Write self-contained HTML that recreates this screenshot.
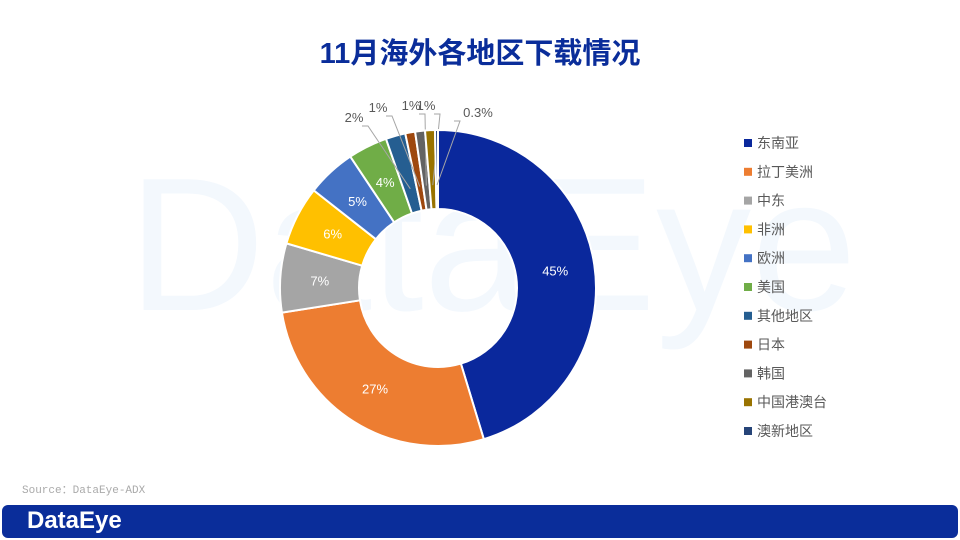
<!DOCTYPE html>
<html><head><meta charset="utf-8"><style>
body{margin:0;width:960px;height:540px;background:#fff;overflow:hidden;font-family:"Liberation Sans","Noto Sans CJK SC",sans-serif;position:relative}
</style></head><body>
<div style="position:absolute;left:128px;top:150px;font-size:190px;font-weight:normal;color:#f3f8fd;letter-spacing:0px;line-height:1">DataEye</div>
<div style="position:absolute;left:0;width:960px;top:30px;text-align:center;font-size:29px;font-weight:bold;color:#0a2d9a">11月海外各地区下载情况</div>
<svg id="chart" width="960" height="540" style="position:absolute;left:0;top:0"></svg>
<div style="position:absolute;left:22px;top:481px;font-size:11px;color:#aaa;font-family:'Liberation Mono','Noto Sans CJK SC',monospace">Source：DataEye-ADX</div>
<div style="position:absolute;left:2px;top:505px;width:956px;height:33px;background:#0a2d9a;border-radius:6px"></div>
<div style="position:absolute;left:27px;top:507px;font-size:24px;font-weight:bold;color:#fff">DataEye</div>
<script>
const categories=["东南亚","拉丁美洲","中东","非洲","欧洲","美国","其他地区","日本","韩国","中国港澳台","澳新地区"];
const values=[45,27,7,6,5,4,2,1,1,1,0.3];
const labels=["45%","27%","7%","6%","5%","4%","2%","1%","1%","1%","0.3%"];
const colors=["#0a289c","#ed7d31","#a5a5a5","#ffc000","#4472c4","#70ad47","#255e91","#9e480e","#636363","#997300","#264478"];
const NS="http://www.w3.org/2000/svg";
const svg=document.getElementById('chart');
const cx=438,cy=288,R=158,r=79;
const total=values.reduce((a,b)=>a+b,0);
function pt(a,rad){return [cx+rad*Math.sin(a),cy-rad*Math.cos(a)];}
let a0=0;
const outside=[[368,120],[392,110],[425,108],[440,108],[460,115]];
values.forEach((v,i)=>{
  const a1=a0+v/total*2*Math.PI;
  const [x1,y1]=pt(a0,R),[x2,y2]=pt(a1,R),[x3,y3]=pt(a1,r),[x4,y4]=pt(a0,r);
  const lg=(a1-a0)>Math.PI?1:0;
  const p=document.createElementNS(NS,'path');
  p.setAttribute('d',`M${x1},${y1}A${R},${R} 0 ${lg} 1 ${x2},${y2}L${x3},${y3}A${r},${r} 0 ${lg} 0 ${x4},${y4}Z`);
  p.setAttribute('fill',colors[i]);p.setAttribute('stroke','#fff');p.setAttribute('stroke-width','2');
  
  
  svg.appendChild(p);
  const am=(a0+a1)/2;
  const t=document.createElementNS(NS,'text');
  if(i<6){
    const [tx,ty]=pt(am,(R+r)/2);
    t.setAttribute('x',tx);t.setAttribute('y',ty+5);t.setAttribute('fill','#fff');
  } else {
    const [ox,oy]=outside[i-6];
    const [sx,sy]=pt(am,R-55);
    const l=document.createElementNS(NS,'polyline');
    l.setAttribute('points',`${sx},${sy} ${ox},${oy+6} ${ox-6},${oy+6}`);
    l.setAttribute('fill','none');l.setAttribute('stroke','#a6a6a6');l.setAttribute('stroke-width','1');
    
    
    svg.appendChild(l);
    t.setAttribute('x',ox-(i===10?-18:14));t.setAttribute('y',oy+2);t.setAttribute('fill','#595959');
  }
  t.setAttribute('text-anchor','middle');t.setAttribute('font-size','13');
  t.textContent=labels[i];
  
  
  svg.appendChild(t);
  a0=a1;
});
categories.forEach((c,i)=>{
  const y=143+i*28.8;
  const s=document.createElementNS(NS,'rect');
  s.setAttribute('x',744);s.setAttribute('y',y-4);s.setAttribute('width',8);s.setAttribute('height',8);s.setAttribute('fill',colors[i]);
  
  
  svg.appendChild(s);
  const t=document.createElementNS(NS,'text');
  t.setAttribute('x',757);t.setAttribute('y',y+5);t.setAttribute('font-size','14');t.setAttribute('fill','#595959');
  t.textContent=c;
  
  
  svg.appendChild(t);
});
</script>
</body></html>
